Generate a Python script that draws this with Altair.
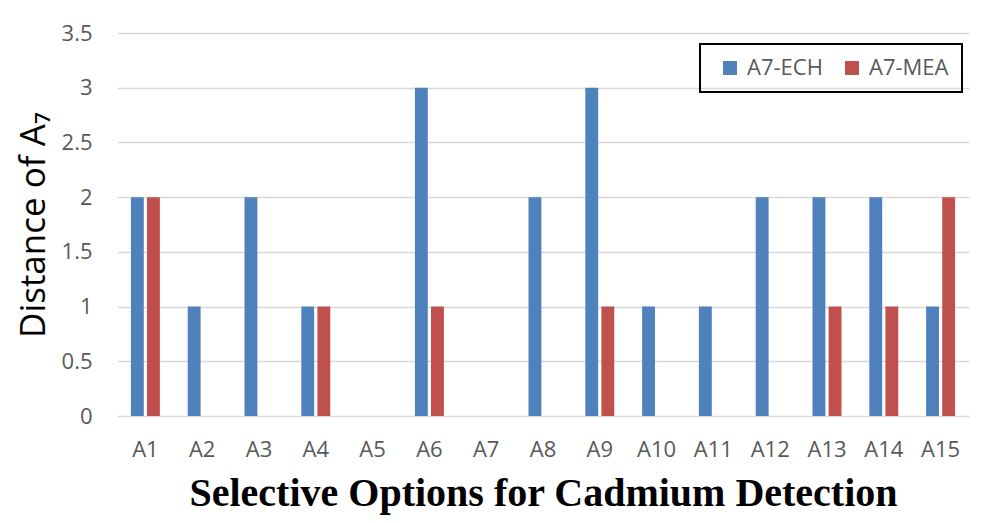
import altair as alt
import pandas as pd

options = ["A1", "A2", "A3", "A4", "A5", "A6", "A7", "A8", "A9", "A10", "A11", "A12", "A13", "A14", "A15"]
ech = [2, 1, 2, 1, 0, 3, 0, 2, 3, 1, 1, 2, 2, 2, 1]
mea = [2, 0, 0, 1, 0, 1, 0, 0, 1, 0, 0, 0, 1, 1, 2]
series = ["A7-ECH", "A7-MEA"]
colors = ["#4F81BD", "#C0504D"]

rows = []
for i, o in enumerate(options):
    rows.append({"option": o, "series": series[0], "value": ech[i]})
    rows.append({"option": o, "series": series[1], "value": mea[i]})
df = pd.DataFrame(rows)

font = "Open Sans"

chart = alt.Chart(df).mark_bar().encode(
    x=alt.X("option:N", sort=options,
            scale=alt.Scale(paddingInner=0.49, paddingOuter=0.245),
            axis=alt.Axis(title="Selective Options for Cadmium Detection",
                          labelAngle=0, labelFontSize=22, labelColor="#595959",
                          labelFont=font, labelPadding=23, domain=False, ticks=False,
                          titleFont="Liberation Serif", titleFontSize=40,
                          titleFontWeight="bold", titleColor="#000000",
                          titlePadding=13, grid=False)),
    xOffset=alt.XOffset("series:N", sort=series,
                        scale=alt.Scale(paddingInner=0.2, paddingOuter=0)),
    y=alt.Y("value:Q",
            scale=alt.Scale(domain=[0, 3.5], nice=False),
            axis=alt.Axis(title="Distance of A₇", values=[0, 0.5, 1, 1.5, 2, 2.5, 3, 3.5],
                          format="~g", labelFontSize=22, labelColor="#595959",
                          labelFont=font, labelPadding=25, domain=False, ticks=False,
                          gridColor="#D9D9D9", gridWidth=1.5,
                          titleFont=font, titleFontSize=35, titleFontWeight="normal",
                          titleColor="#000000", titlePadding=10)),
    color=alt.Color("series:N", sort=series,
                    scale=alt.Scale(domain=series, range=colors),
                    legend=alt.Legend(title=None, orient="none", legendX=583, legendY=11,
                                      direction="horizontal", symbolType="square",
                                      symbolSize=196, symbolStrokeWidth=0,
                                      labelFontSize=22, labelFont=font, labelColor="#595959",
                                      strokeColor="#000000", padding=13, symbolOffset=6,
                                      columnPadding=12, labelOffset=6)),
).properties(
    width=852, height=383,
    padding={"left": 8, "top": 14, "right": 5, "bottom": 5},
).configure_view(stroke=None).configure_legend(strokeWidth=2)

chart.save("out.html", embed_options={"renderer": "svg", "actions": False})
